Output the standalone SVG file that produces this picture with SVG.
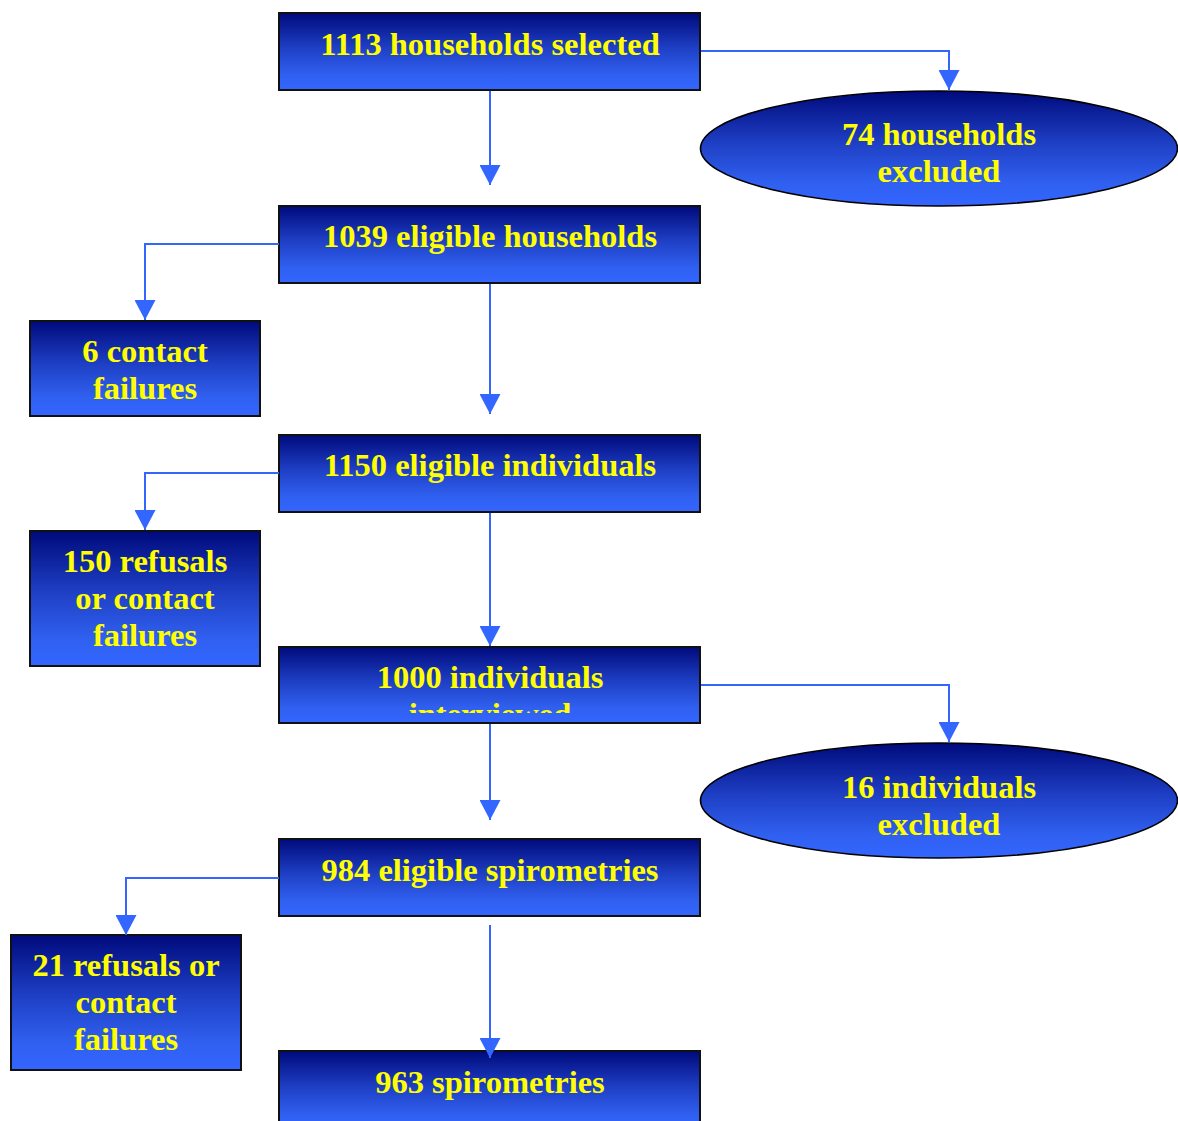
<svg xmlns="http://www.w3.org/2000/svg" width="1178" height="1121" viewBox="0 0 1178 1121">
<defs>
<linearGradient id="g" x1="0" y1="0" x2="0" y2="1">
<stop offset="0" stop-color="#000a7c"/>
<stop offset="0.45" stop-color="#1e3fc4"/>
<stop offset="0.8" stop-color="#3060f0"/>
<stop offset="1" stop-color="#3366ff"/>
</linearGradient>
<marker id="ah" markerUnits="userSpaceOnUse" markerWidth="22" markerHeight="21" refX="20" refY="10.5" orient="auto" viewBox="0 0 22 21">
<path d="M0,0 L20,10.5 L0,21 Z" fill="#3366ff"/>
</marker>
<clipPath id="clip4"><rect x="279" y="647" width="421" height="66"/></clipPath>
</defs>
<style>
.box{fill:url(#g);stroke:#111;stroke-width:2}
.ell{fill:url(#g);stroke:#000;stroke-width:1.6}
.t{font-family:"Liberation Serif","Times New Roman",serif;font-weight:bold;font-size:32.5px;fill:#ffff00;text-anchor:middle}
.c{fill:none;stroke:#3366ff;stroke-width:2;marker-end:url(#ah)}
</style>
<rect width="1178" height="1121" fill="#fff"/>
<g id="n1"><rect class="box" x="279" y="13" width="421" height="77"/><text class="t" x="490" y="55">1113 households selected</text></g>
<g id="n2"><ellipse class="ell" cx="939" cy="148.5" rx="238.5" ry="57.5"/><text class="t" x="939" y="145">74 households</text><text class="t" x="939" y="182">excluded</text></g>
<g id="n3"><rect class="box" x="279" y="206" width="421" height="77"/><text class="t" x="490" y="247">1039 eligible households</text></g>
<g id="n4"><rect class="box" x="30" y="321" width="230" height="95"/><text class="t" x="145" y="362">6 contact</text><text class="t" x="145" y="399">failures</text></g>
<g id="n5"><rect class="box" x="279" y="435" width="421" height="77"/><text class="t" x="490" y="476">1150 eligible individuals</text></g>
<g id="n6"><rect class="box" x="30" y="531" width="230" height="135"/><text class="t" x="145" y="572">150 refusals</text><text class="t" x="145" y="609">or contact</text><text class="t" x="145" y="646">failures</text></g>
<g id="n7"><rect class="box" x="279" y="647" width="421" height="76"/><g clip-path="url(#clip4)"><text class="t" x="490" y="688">1000 individuals</text><text class="t" x="490" y="725">interviewed</text></g></g>
<g id="n8"><ellipse class="ell" cx="939" cy="800.5" rx="238.5" ry="57.5"/><text class="t" x="939" y="798">16 individuals</text><text class="t" x="939" y="835">excluded</text></g>
<g id="n9"><rect class="box" x="279" y="839" width="421" height="77"/><text class="t" x="490" y="881">984 eligible spirometries</text></g>
<g id="n10"><rect class="box" x="11" y="935" width="230" height="135"/><text class="t" x="126" y="976">21 refusals or</text><text class="t" x="126" y="1013">contact</text><text class="t" x="126" y="1050">failures</text></g>
<g id="n11"><rect class="box" x="279" y="1051" width="421" height="80"/><text class="t" x="490" y="1093">963 spirometries</text></g>
<g id="connectors">
<path class="c" d="M490,91 V185"/>
<path class="c" d="M701,51 H949 V90"/>
<path class="c" d="M279,244 H145 V320"/>
<path class="c" d="M490,284 V414"/>
<path class="c" d="M279,473 H145 V530"/>
<path class="c" d="M490,513 V646"/>
<path class="c" d="M701,685 H949 V742"/>
<path class="c" d="M490,724 V820"/>
<path class="c" d="M279,878 H126 V935"/>
<path class="c" d="M490,925 V1058"/>
</g>
</svg>
